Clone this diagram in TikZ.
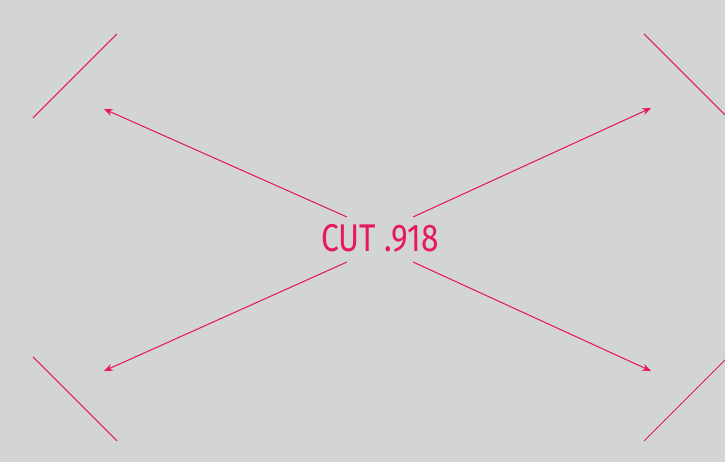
\documentclass[tikz,border=0pt]{standalone}
\usepackage{fontspec}
\setmainfont{Fira Sans}
\usetikzlibrary{arrows.meta}
\definecolor{cutred}{HTML}{E8195A}
\definecolor{paper}{HTML}{D3D4D6}
\begin{document}
\begin{tikzpicture}[x=0.02cm, y=-0.02cm, line width=0.6pt,
    mark line/.style={draw=cutred},
    pointer/.style={draw=cutred, -{Stealth[length=5pt, width=4pt]}}]
    \fill[paper] (0,0) rectangle (725,462);
    \clip (0,0) rectangle (725,462);
    % cut marks in the corners
    \draw[mark line] (33,118) -- (117,34);
    \draw[mark line] (644,34) -- (730,120);
    \draw[mark line] (33,357) -- (117,441);
    \draw[mark line] (644,441) -- (730,355);
    % label and pointers
    \node[text=cutred, font=\fontsize{22}{24}\selectfont, inner sep=0pt] (cut) at (380,238) {\scalebox{0.82}[1]{CUT .918}};
    \coordinate (tl) at (104,109);
    \coordinate (tr) at (651,108);
    \coordinate (bl) at (104,371);
    \coordinate (br) at (651,371);
    \draw[pointer] (347,217) -- (tl);
    \draw[pointer] (413,217) -- (tr);
    \draw[pointer] (347,262) -- (bl);
    \draw[pointer] (413,262) -- (br);
\end{tikzpicture}
\end{document}
